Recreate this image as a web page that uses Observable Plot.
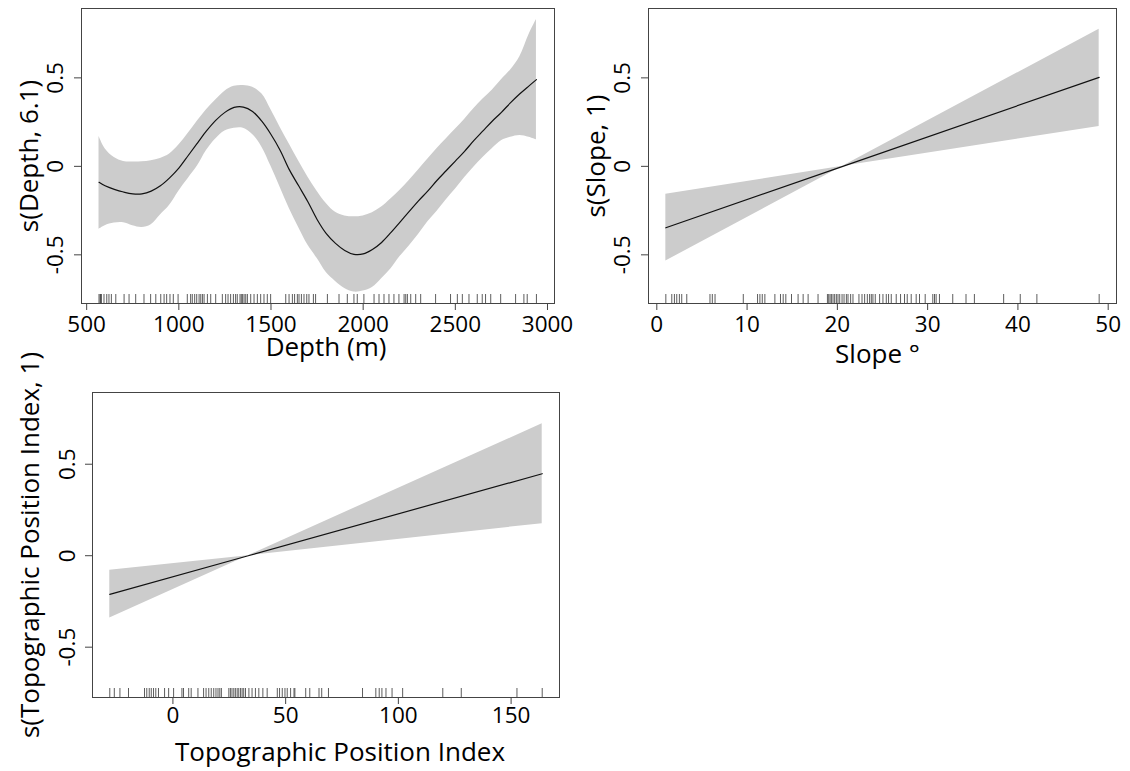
<!DOCTYPE html>
<html><head><meta charset="utf-8">
<script src="https://cdn.jsdelivr.net/npm/d3@7"></script>
<script src="https://cdn.jsdelivr.net/npm/@observablehq/plot@0.6"></script>
<style>
body{margin:0;background:#fff;}
#wrap{position:relative;width:1130px;height:771px;overflow:hidden;background:#fff;font-family:"Open Sans",sans-serif;}
.panel{position:absolute;}
</style></head><body><div id="wrap"></div>
<script>
// ---------- Panel 1: Depth ----------
const depthX = [567,600,650,700,750,800,850,900,950,1000,1050,1100,1150,1200,1250,1300,1350,1400,1450,1500,1550,1600,1650,1700,1750,1800,1850,1900,1950,2000,2050,2100,2150,2200,2250,2300,2350,2400,2450,2500,2550,2600,2650,2700,2750,2800,2850,2900,2940];
const depthFit = [-0.09,-0.11,-0.13,-0.145,-0.155,-0.155,-0.14,-0.11,-0.065,-0.01,0.06,0.13,0.20,0.26,0.305,0.333,0.335,0.31,0.255,0.18,0.09,-0.02,-0.11,-0.20,-0.30,-0.38,-0.435,-0.475,-0.497,-0.495,-0.47,-0.43,-0.375,-0.315,-0.255,-0.195,-0.14,-0.08,-0.025,0.03,0.085,0.145,0.20,0.255,0.305,0.36,0.41,0.455,0.49];
const depthUpper = [0.17,0.10,0.05,0.028,0.025,0.026,0.032,0.045,0.07,0.12,0.185,0.255,0.32,0.375,0.425,0.452,0.457,0.447,0.41,0.32,0.22,0.125,0.03,-0.06,-0.14,-0.21,-0.26,-0.28,-0.285,-0.28,-0.262,-0.23,-0.185,-0.135,-0.08,-0.02,0.04,0.10,0.155,0.21,0.265,0.325,0.38,0.43,0.49,0.545,0.62,0.745,0.83];
const depthLower = [-0.355,-0.335,-0.32,-0.318,-0.335,-0.345,-0.33,-0.275,-0.22,-0.14,-0.07,0.0,0.09,0.155,0.20,0.215,0.215,0.18,0.11,0.0,-0.12,-0.24,-0.345,-0.445,-0.52,-0.60,-0.65,-0.69,-0.71,-0.705,-0.685,-0.635,-0.58,-0.51,-0.45,-0.385,-0.315,-0.255,-0.19,-0.13,-0.065,-0.005,0.05,0.10,0.145,0.165,0.175,0.165,0.15];
const depthRug = [567,573,576,580,594,609,621,634,658,703,730,766,811,847,875,902,920,934,952,970,996,1046,1064,1073,1086,1097,1110,1119,1128,1137,1155,1173,1200,1236,1254,1267,1281,1296,1308,1317,1332,1339,1346,1354,1363,1372,1390,1408,1426,1444,1462,1480,1498,1580,1598,1616,1628,1643,1652,1665,1679,1694,1706,1730,1742,1806,1869,1914,1950,1968,2004,2059,2086,2113,2140,2167,2194,2222,2231,2240,2258,2285,2312,2393,2474,2511,2538,2574,2619,2646,2664,2692,2746,2827,2872,2890,2940];
const depthTicks = [500,1000,1500,2000,2500,3000];

// ---------- Panel 2: Slope ----------
const slopeX = [1, 20.6, 49];
const slopeFit = [-0.347, 0, 0.503];
const slopeUpper = [-0.158, 0, 0.775];
const slopeLower = [-0.535, 0, 0.225];
const slopeRug = [1.0,1.66,1.95,2.21,2.5,2.76,3.32,5.89,6.15,6.45,9.58,11.16,11.42,11.68,11.97,13.08,13.7,14.0,14.29,14.92,15.65,16.21,16.76,17.86,18.9,19.04,19.19,19.34,19.52,19.7,19.89,20.07,20.26,20.52,20.74,21.0,21.18,21.47,21.73,22.39,22.73,23.02,23.32,23.57,23.76,23.94,24.2,24.68,25.05,25.42,25.67,25.97,26.52,27.0,27.44,27.74,28.18,28.73,29.1,29.73,30.57,30.76,30.94,31.31,32.78,34.25,35.18,38.42,40.26,42.1,49.0];
const slopeTicks = [0,10,20,30,40,50];

// ---------- Panel 3: Topographic Position Index ----------
const tpiX = [-28, 33.4, 163.8];
const tpiFit = [-0.211, 0, 0.448];
const tpiUpper = [-0.080, 0, 0.721];
const tpiLower = [-0.341, 0, 0.175];
const tpiRug = [-28,-26,-23.5,-19.7,-12.6,-11.6,-10.5,-9.6,-8.6,-7.6,-6.4,-3.7,-1.9,0.3,4.0,4.7,7.0,8.1,11.1,13.6,14.7,15.9,17.0,18.1,19.1,20.0,20.8,21.5,24.8,25.5,26.2,27.0,27.7,28.5,29.2,30.0,30.7,31.4,32.2,33.7,35.1,36.6,38.1,39.9,41.8,46.3,47.3,48.5,49.7,50.7,52.2,53.7,54.1,58.9,60.7,64.8,66.0,69.0,84.1,90.0,91.5,92.7,94.5,97.2,101.9,119.7,127.9,152.6,163.8];
const tpiTicks = [0,50,100,150];

const yTicks = [-0.5, 0, 0.5];
const yDomain = [-0.775, 0.892];

function rows(xs, fit, hi, lo) {
  return xs.map((x, i) => ({x, fit: fit[i], hi: hi[i], lo: lo[i]}));
}

function makePanel(cfg) {
  const innerH = cfg.height - cfg.mT - cfg.mB;
  const data = rows(cfg.xs, cfg.fit, cfg.hi, cfg.lo);
  const fmt = d => String(d);
  const TICK = 22.5, TITLE = 26;
  const p = Plot.plot({
    width: cfg.width, height: cfg.height,
    marginLeft: cfg.mL, marginRight: cfg.mR, marginTop: cfg.mT, marginBottom: cfg.mB,
    style: {fontFamily: "'Open Sans', sans-serif", color: "#000", background: "transparent", overflow: "visible"},
    x: {domain: cfg.xDomain},
    y: {domain: yDomain},
    marks: [
      Plot.areaY(data, {x: "x", y1: "lo", y2: "hi", fill: "#cccccc", curve: cfg.curve}),
      Plot.line(data, {x: "x", y: "fit", stroke: "#111", strokeWidth: 1.2, curve: cfg.curve}),
      Plot.ruleX(cfg.rug, {x: d => d, insetTop: innerH - 9, stroke: "#333", strokeWidth: 0.8}),
      Plot.frame({stroke: "#444", strokeWidth: 1}),
      Plot.axisX({ticks: cfg.xTicks, tickFormat: () => "", tickSize: 7, stroke: "#444", label: null}),
      Plot.axisY({ticks: yTicks, tickFormat: () => "", tickSize: 7, stroke: "#444", label: null}),
      Plot.text(cfg.xTicks, {x: d => d, text: fmt, frameAnchor: "bottom", lineAnchor: "top", textAnchor: "middle", dy: 7 + cfg.xPad, fontSize: TICK, fill: "#000"}),
      Plot.text(yTicks, {y: d => d, text: fmt, frameAnchor: "left", rotate: -90, textAnchor: "middle", lineAnchor: "middle", dx: cfg.yTickDx, fontSize: TICK, fill: "#000"}),
      Plot.text([cfg.yLabel], {text: d => d, frameAnchor: "left", rotate: -90, textAnchor: "middle", lineAnchor: "middle", dx: cfg.yDx, fontSize: TITLE, fill: "#000"}),
      Plot.text([cfg.xLabel], {text: d => d, frameAnchor: "bottom", textAnchor: "middle", dx: cfg.xDx, dy: cfg.xDy, lineAnchor: "bottom", fontSize: TITLE, fill: "#000"})
    ]
  });
  const div = document.createElement("div");
  div.className = "panel";
  div.style.left = cfg.left + "px";
  div.style.top = cfg.top + "px";
  div.appendChild(p);
  document.getElementById("wrap").appendChild(div);
}

makePanel({left: 0, top: 0, width: 600, height: 380, mL: 81, mR: 46, mT: 8, mB: 77,
  xs: depthX, fit: depthFit, hi: depthUpper, lo: depthLower, rug: depthRug,
  xDomain: [472, 3038], xTicks: depthTicks, curve: "catmull-rom", xPad: 6, yTickDx: -26,
  yLabel: "s(Depth, 6.1)", yDx: -52, xLabel: "Depth (m)", xDx: 8, xDy: 52});

makePanel({left: 565, top: 0, width: 565, height: 380, mL: 83, mR: 14, mT: 8, mB: 77,
  xs: slopeX, fit: slopeFit, hi: slopeUpper, lo: slopeLower, rug: slopeRug,
  xDomain: [-0.92, 50.92], xTicks: slopeTicks, curve: "linear", xPad: 6, yTickDx: -26,
  yLabel: "s(Slope, 1)", yDx: -52, xLabel: "Slope °", xDx: -5, xDy: 59});

makePanel({left: 0, top: 360, width: 600, height: 411, mL: 92, mR: 41, mT: 32, mB: 74,
  xs: tpiX, fit: tpiFit, hi: tpiUpper, lo: tpiLower, rug: tpiRug,
  xDomain: [-35.67, 171.47], xTicks: tpiTicks, curve: "linear", xPad: 3, yTickDx: -25,
  yLabel: "s(Topographic Position Index, 1)", yDx: -62, xLabel: "Topographic Position Index", xDx: 14, xDy: 63});
</script></body></html>
